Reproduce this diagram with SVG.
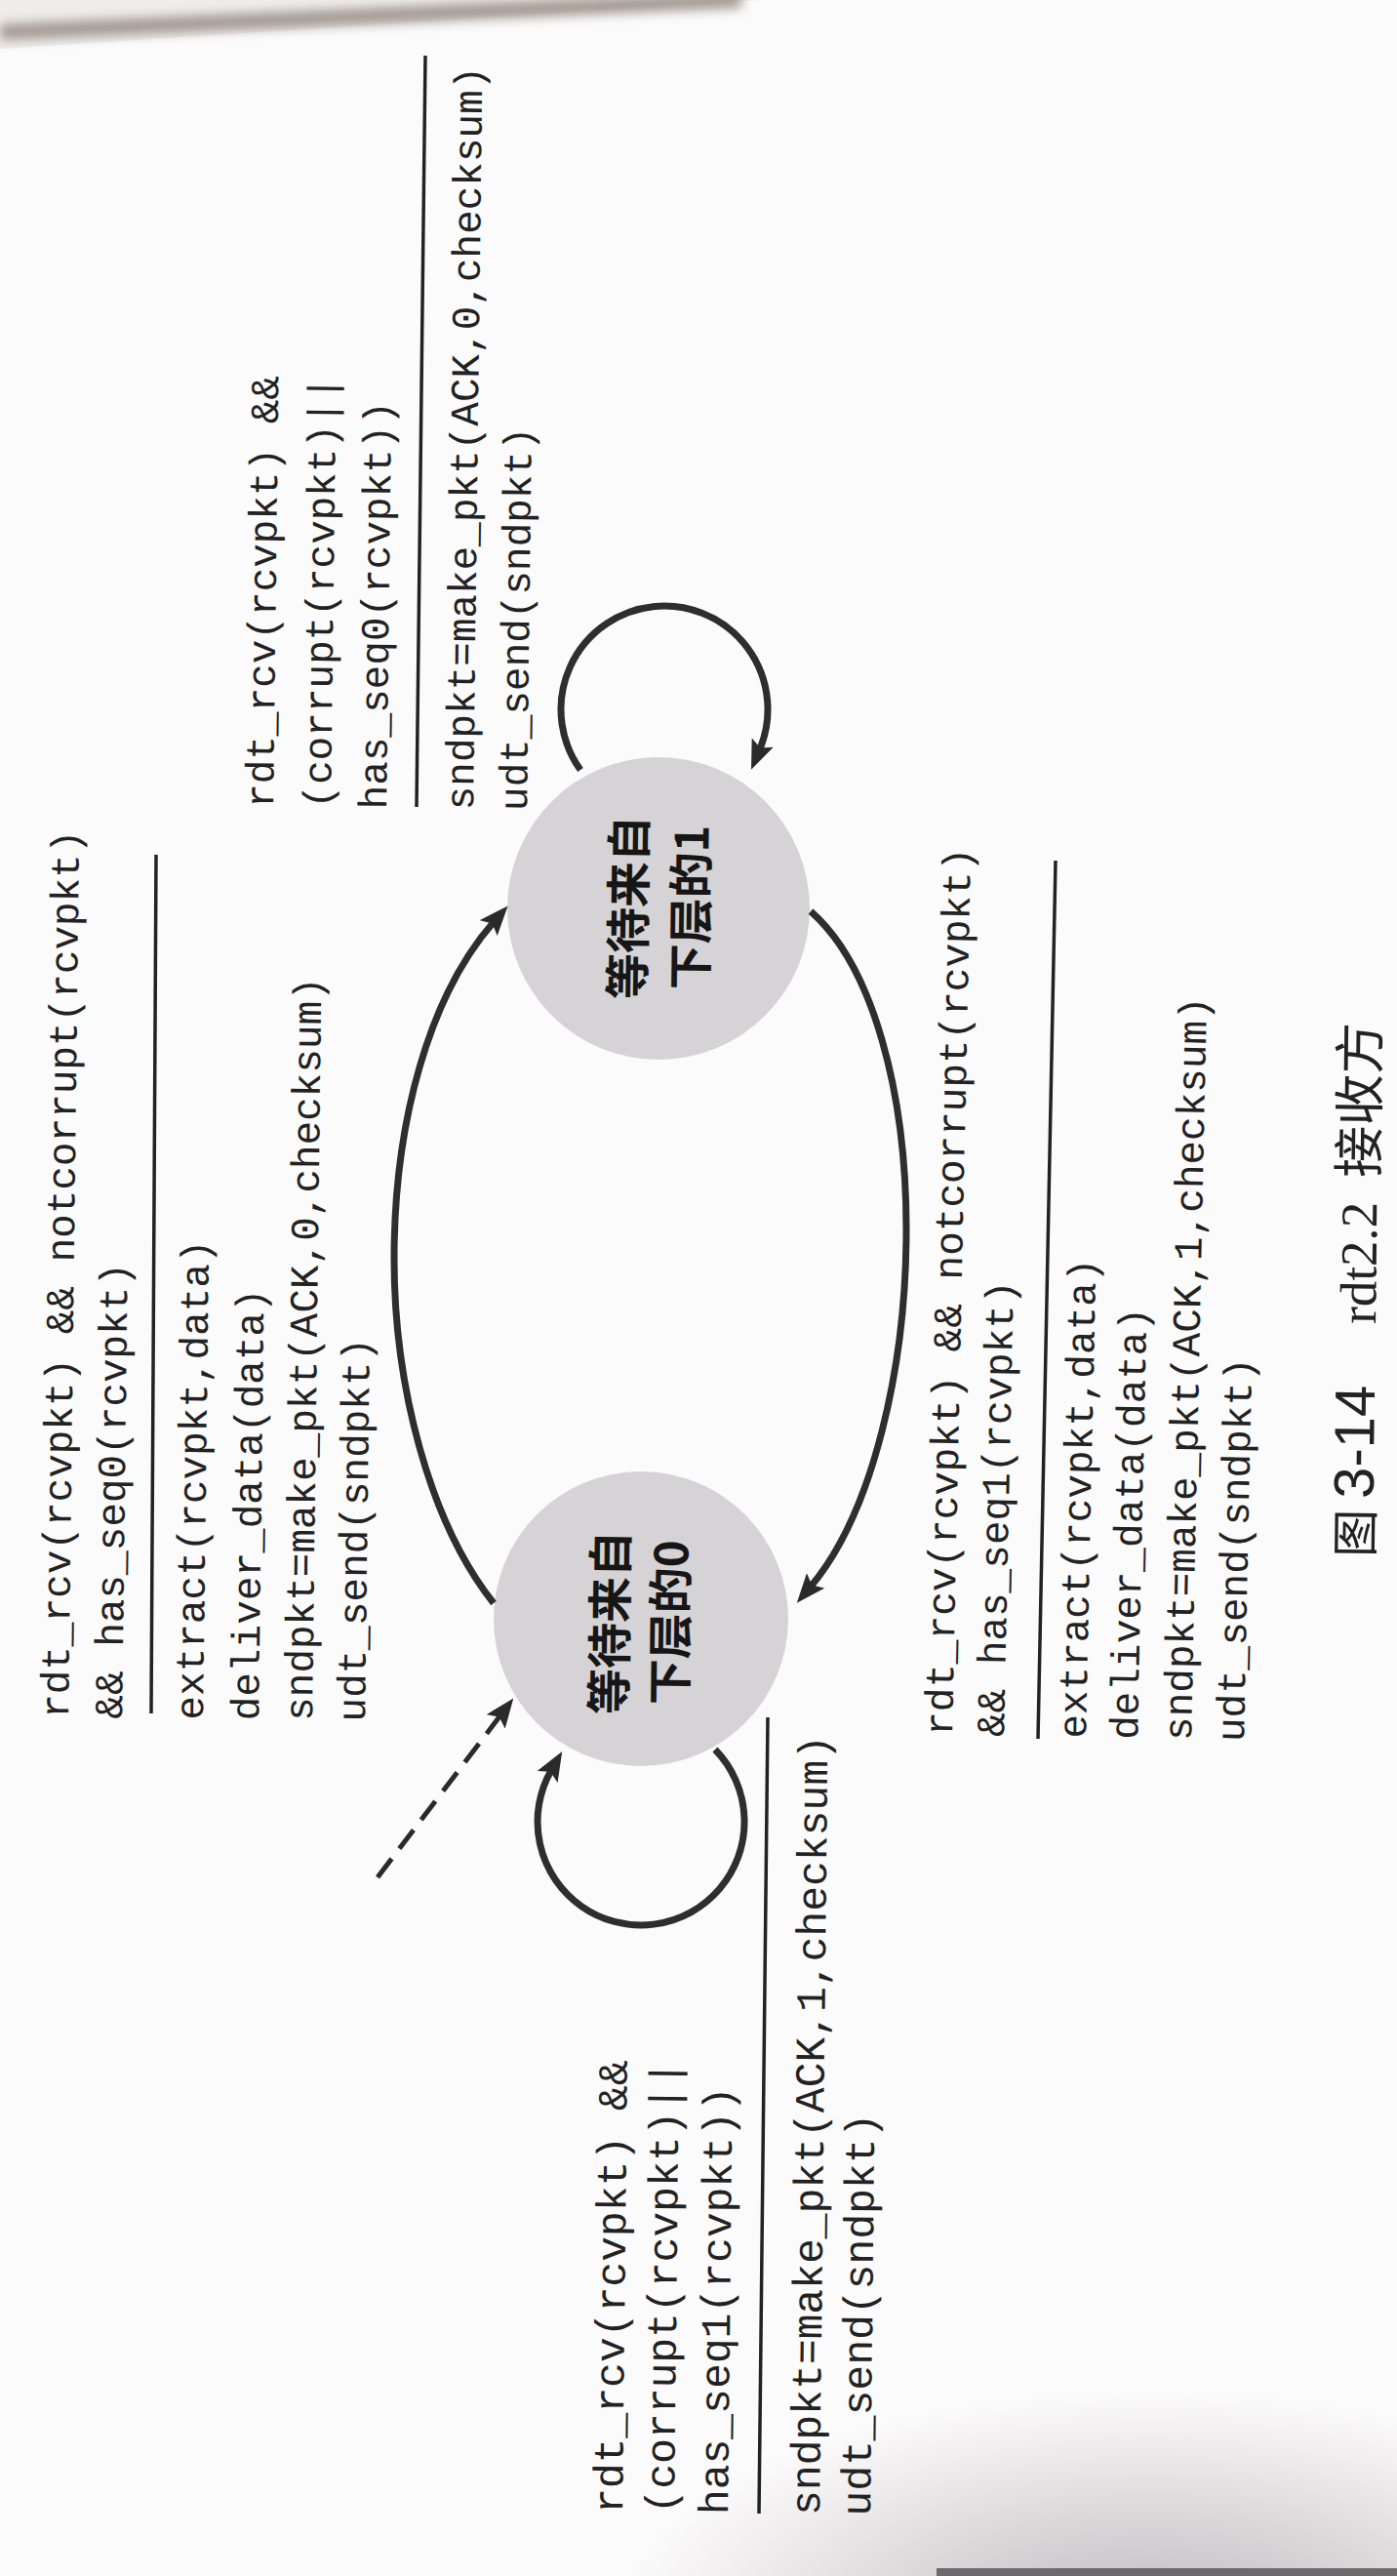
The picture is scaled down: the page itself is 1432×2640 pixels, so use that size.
<svg xmlns="http://www.w3.org/2000/svg" width="1432" height="2640" viewBox="0 0 1432 2640">
<defs>
<style>
.mono { font-family: "Liberation Mono", "DejaVu Sans Mono", monospace; font-size: 41px; fill: #222222; }
.mono43 { font-size: 43px; }
.rule { stroke: #222222; stroke-width: 3.5; fill: none; }
.arc { fill: none; stroke: #2e2e2e; stroke-width: 7; marker-end: url(#ah); }
.dash { fill: none; stroke: #2a2a2a; stroke-width: 5; stroke-dasharray: 24 13; marker-end: url(#ah); }
.node { fill: #d5d3d5; }
.stext { font-family: "Noto Sans CJK SC", sans-serif; font-weight: 700; font-size: 47px; fill: #161616; text-anchor: middle; dominant-baseline: central; }
.cap { font-family: "Noto Sans CJK SC", sans-serif; font-size: 53px; fill: #222222; }
.capt { font-size: 49px; }
.capd { font-family: "Liberation Sans", "Noto Sans CJK SC", sans-serif; font-size: 58px; }
.capl { font-family: "Liberation Serif", "Noto Sans CJK SC", serif; font-size: 53px; }
</style>
<marker id="ah" viewBox="0 0 30 24" markerWidth="30" markerHeight="24" refX="8" refY="12" orient="auto" markerUnits="userSpaceOnUse">
<path d="M0,0 L30,12 L0,24 L6,12 z" fill="#2a2a2a"/>
</marker>
<filter id="blur" filterUnits="userSpaceOnUse" x="-50" y="-50" width="900" height="160">
<feGaussianBlur stdDeviation="6"/>
</filter>
<radialGradient id="shade" gradientUnits="userSpaceOnUse" cx="1180" cy="2690" r="240" gradientTransform="translate(1180,2690) scale(2.3,1) translate(-1180,-2690)">
<stop offset="0" stop-color="#9c949a" stop-opacity="0.65"/>
<stop offset="1" stop-color="#9c949a" stop-opacity="0"/>
</radialGradient>
</defs>
<rect width="1432" height="2640" fill="#fcfbfb"/>
<g id="paper">
<polygon points="0,0 780,0 0,50" fill="#efedeb"/>
<path d="M0,33 L760,0" stroke="#a0968f" stroke-width="16" filter="url(#blur)"/>
<rect x="500" y="2420" width="932" height="220" fill="url(#shade)"/>
<rect x="960" y="2632" width="472" height="8" fill="#6d6a6e"/>
</g>

<g id="state1">
<circle class="node" cx="675" cy="931" r="155"/>
<text class="stext" transform="translate(641,930) rotate(-89.3)">等待来自</text>
<text class="stext" transform="translate(705,930) rotate(-89.3)">下层的1</text>
</g>

<g id="state0">
<circle class="node" cx="657" cy="1659" r="151"/>
<text class="stext" transform="translate(622,1663) rotate(-89.3)">等待来自</text>
<text class="stext" transform="translate(684,1663) rotate(-89.3)">下层的0</text>
</g>

<g id="connectors">
<path class="arc" d="M506,1643 C440,1560 404,1420 404,1290 C404,1150 440,1020 506,945"/>
<path class="arc" d="M831,934 C895,990 929,1120 929,1260 C929,1400 895,1550 831,1626"/>
<path class="arc" d="M595,789 A106,106 0 1 1 778.6,768.4"/>
<path class="arc" d="M733,1793 A106,106 0 1 1 565.2,1814"/>
<path class="dash" d="M387,1924 L513,1758"/>
</g>

<g id="label-s1-loop">
<g transform="translate(280,828) rotate(-89.3)">
<text class="mono" x="0" y="0">rdt_rcv(rcvpkt) &amp;&amp;</text>
<text class="mono" x="0" y="59">(corrupt(rcvpkt)||</text>
<text class="mono" x="0" y="116">has_seq0(rcvpkt))</text>
<text class="mono" x="0" y="205">sndpkt=make_pkt(ACK,0,checksum)</text>
<text class="mono" x="0" y="260">udt_send(sndpkt)</text>
</g>
<line class="rule" x1="436" y1="57" x2="427" y2="827"/>
</g>

<g id="label-s0-s1">
<g transform="translate(70,1761) rotate(-89.3)">
<text class="mono" x="0" y="0">rdt_rcv(rcvpkt) &amp;&amp; notcorrupt(rcvpkt)</text>
<text class="mono" x="0" y="55">&amp;&amp; has_seq0(rcvpkt)</text>
<text class="mono" x="0" y="138">extract(rcvpkt,data)</text>
<text class="mono" x="0" y="195">deliver_data(data)</text>
<text class="mono" x="0" y="250">sndpkt=make_pkt(ACK,0,checksum)</text>
<text class="mono" x="0" y="304">udt_send(sndpkt)</text>
</g>
<line class="rule" x1="160" y1="876" x2="155" y2="1756"/>
</g>

<g id="label-s1-s0">
<g transform="translate(976,1779) rotate(-88.8)">
<text class="mono" x="0" y="0">rdt_rcv(rcvpkt) &amp;&amp; notcorrupt(rcvpkt)</text>
<text class="mono" x="0" y="53">&amp;&amp; has_seq1(rcvpkt)</text>
<text class="mono" x="0" y="137">extract(rcvpkt,data)</text>
<text class="mono" x="0" y="190">deliver_data(data)</text>
<text class="mono" x="0" y="245">sndpkt=make_pkt(ACK,1,checksum)</text>
<text class="mono" x="0" y="299">udt_send(sndpkt)</text>
</g>
<line class="rule" x1="1082" y1="882" x2="1064" y2="1782"/>
</g>

<g id="label-s0-loop">
<g transform="translate(638,2576) rotate(-89.4)">
<text class="mono mono43" x="0" y="0">rdt_rcv(rcvpkt) &amp;&amp;</text>
<text class="mono mono43" x="0" y="53">(corrupt(rcvpkt)||</text>
<text class="mono mono43" x="0" y="108">has_seq1(rcvpkt))</text>
<text class="mono mono43" x="0" y="202">sndpkt=make_pkt(ACK,1,checksum)</text>
<text class="mono mono43" x="0" y="254">udt_send(sndpkt)</text>
</g>
<line class="rule" x1="787" y1="1760" x2="778" y2="2576"/>
</g>

<g id="caption">
<text class="cap" transform="translate(1407,1596) rotate(-89.3)"><tspan class="capt" x="0">图</tspan><tspan class="capd" x="60">3-14</tspan><tspan class="capl" x="239">rdt2.2</tspan><tspan x="389">接收方</tspan></text>
</g>
</svg>
